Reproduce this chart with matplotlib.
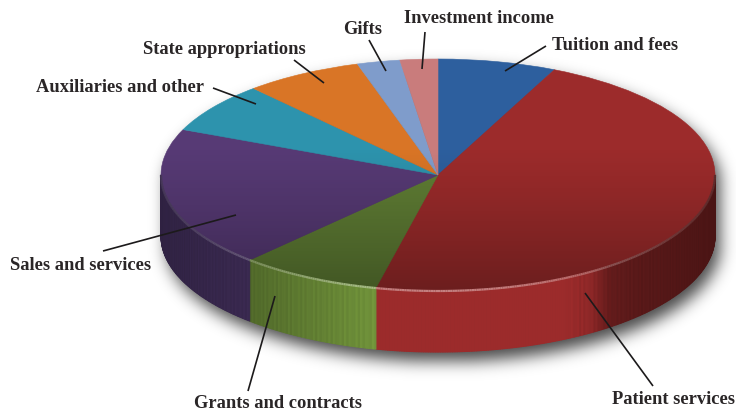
import numpy as np
import matplotlib
matplotlib.use("Agg")
import matplotlib.pyplot as plt
from matplotlib.collections import PolyCollection, LineCollection
from matplotlib.colors import to_rgb
from matplotlib.patches import Ellipse

# Revenue shares (%), clockwise from 12 o'clock
categories = ['Tuition and fees', 'Patient services', 'Grants and contracts', 'Sales and services',
              'Auxiliaries and other', 'State appropriations', 'Gifts', 'Investment income']
shares = [6.9, 46.7, 8.3, 19.5, 7.0, 6.9, 2.5, 2.2]
colors = ['#2d5f9e', '#9c2b2b', '#5f7d34', '#573a75', '#2d93ad', '#d97526', '#7f9ccb', '#c97c7c']
side_colors = ['#2d5f9e', '#9c2b2b', '#70923a', '#50396f', '#2d93ad', '#d97526', '#7f9ccb', '#c97c7c']

# label position (left, vertical centre) and leader line, in image pixels
label_pos = [(552, 45), (612, 400), (194, 404), (10, 266), (36, 87), (143, 50), (343, 29), (404, 18)]
leaders = [((546, 47), (505, 72)), ((653, 387), (585, 294)), ((248, 392), (275, 297)),
           ((103, 252), (236, 216)), ((213, 89), (256, 105)), ((294, 61), (324, 84)),
           ((369, 41), (386, 72)), ((425, 33), (422, 70))]

W, H = 736, 414
CX, CY, RX, RY = 438, 176, 277, 116
DEPTH = 61 / RY


def px(x, y):
    return (x - CX) / RX, (CY - y) / RY


fig = plt.figure(figsize=(W / 100, H / 100), dpi=100)
ax = fig.add_axes([0, 0, 1, 1])

# top face
wedges, _ = ax.pie(shares, colors=colors, startangle=90, counterclock=False, radius=1, center=(0, 0),
                   wedgeprops={'linewidth': 0.4, 'zorder': 2})
for w in wedges:
    w.set_edgecolor(w.get_facecolor())
ax.set_aspect('auto')
xlim = (px(0, 0)[0], px(W, 0)[0])
ylim = (px(0, H)[1], px(0, 0)[1])

# soft shadow under the disc, pushed down and right so the back edge stays clean
yy, xx = np.mgrid[0:H, 0:W]
ex = (xx - CX - 5) / RX
body = np.zeros((H, W))
for off in np.linspace(9, 61 + 9, 35):
    body = np.maximum(body, (ex ** 2 + ((yy - CY - off) / RY) ** 2 <= 1).astype(float))
k = np.exp(-0.5 * (np.arange(-27, 28) / 8.0) ** 2)
k /= k.sum()
blur = np.apply_along_axis(lambda r: np.convolve(r, k, mode='same'), 0, body)
blur = np.apply_along_axis(lambda r: np.convolve(r, k, mode='same'), 1, blur)
rgba = np.zeros((H, W, 4))
rgba[..., 3] = blur * 0.72
ax.imshow(rgba, extent=(xlim[0], xlim[1], ylim[0], ylim[1]), aspect='auto', zorder=0)

# rim: thin quads along the front half, shaded by horizontal position
edges = np.cumsum([0] + shares) * 3.6
quads, quad_cols, segs, seg_cols = [], [], [], []
for i, c in enumerate(side_colors):
    start, stop = max(edges[i], 90), min(edges[i + 1], 270)
    if stop <= start:
        continue
    th = np.deg2rad(np.arange(start, stop + 0.5, 0.5))
    th[-1] = np.deg2rad(stop)
    base = np.array(to_rgb(c))
    for a, b in zip(th[:-1], th[1:]):
        sx = np.sin(a)
        f = np.interp(sx, [-1, -0.68, -0.23, 0.45, 0.55, 0.62, 0.7, 1],
                      [0.6, 0.72, 1, 1, 0.92, 0.64, 0.58, 0.48])
        # faint vertical banding, only away from the smooth front of the disc
        if sx > 0.48 or sx < -0.23:
            f = f * (1 + 0.04 * np.sin(np.rad2deg(a) * 5.3))
        x0, x1 = np.sin(a), np.sin(b)
        y0, y1 = np.cos(a), np.cos(b)
        quads.append([(x0, y0), (x1, y1), (x1, y1 - DEPTH), (x0, y0 - DEPTH)])
        quad_cols.append(np.clip(base * f, 0, 1))
        segs.append([(x0, y0), (x1, y1)])
        glow = max(0.0, -y0) ** 3
        seg_cols.append(np.clip(base * f + (1 - base * f) * (0.1 + 0.3 * glow), 0, 1))
ax.add_collection(PolyCollection(quads, facecolors=quad_cols, edgecolors=quad_cols, linewidths=0.8, zorder=1))

# top face darkens towards the front, flat over the back half
y_grad = np.linspace(-1, 1, 200)
grad = np.zeros((200, 2, 4))
grad[..., 3] = (0.31 * np.clip((0.25 - y_grad) / 1.25, 0, 1) ** 1.2)[:, None] * np.ones((200, 2))
im = ax.imshow(grad, extent=(-1, 1, -1, 1), origin='lower', aspect='auto', zorder=3)
im.set_clip_path(Ellipse((0, 0), 2, 2, transform=ax.transData))

ax.add_collection(LineCollection(segs, colors=seg_cols, linewidths=1.6, zorder=4))

for name, (lx, ly), (p0, p1) in zip(categories, label_pos, leaders):
    a, b = px(*p0), px(*p1)
    ax.plot([a[0], b[0]], [a[1], b[1]], color='#1c1a1b', lw=1.2, zorder=5, solid_capstyle='butt')
    tx, ty = px(lx, ly)
    ax.text(tx, ty, name, family='Liberation Serif', weight='bold', fontsize=13.3, color='#2a2627',
            ha='left', va='center', zorder=6)

ax.set_xlim(xlim)
ax.set_ylim(ylim)
ax.axis('off')
fig.savefig('out.png', dpi=100)
